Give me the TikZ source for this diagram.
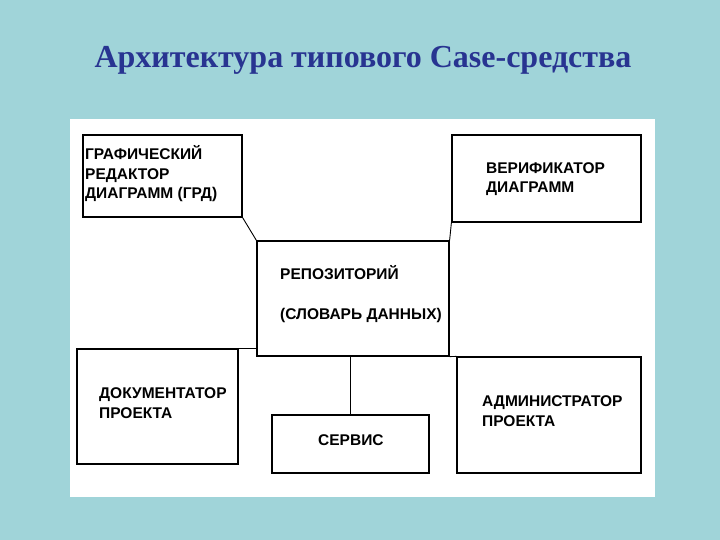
\documentclass[tikz,border=0pt]{standalone}
\usepackage{fontspec}
\setmainfont{Liberation Serif}
\newfontfamily\boxfont{Liberation Sans}
\definecolor{slidebg}{RGB}{160,212,217}
\definecolor{titleblue}{RGB}{40,52,145}
\usetikzlibrary{positioning,calc}

\begin{document}
\begin{tikzpicture}[x=1pt, y=-1pt,
  box/.style={rectangle, draw=black, line width=1.2pt, fill=white,
              inner sep=0pt},
  lbl/.style={font=\boxfont\bfseries\fontsize{15.5}{19.5}\selectfont,
              align=left, anchor=base west, inner sep=0pt},
  conn/.style={draw=black, line width=0.9pt}
]
% Background and panel
\fill[slidebg] (0,0) rectangle (720,540);
\useasboundingbox (0,0) rectangle (720,540);
\fill[white] (70,119) rectangle (655,497);

% Title
\node[font=\bfseries\fontsize{32}{36}\selectfont, text=titleblue] (title)
  at (363,60) {Архитектура типового Case-средства};

% Boxes
\node[box, minimum width=159, minimum height=82] (grd) at (162.5,176) {};
\node[box, minimum width=189, minimum height=87] (ver) at (546.5,178.5) {};
\node[box, minimum width=192, minimum height=115] (rep) at (353,298.5) {};
\node[box, minimum width=161, minimum height=115] (doc) at (157.5,406.5) {};
\node[box, minimum width=157, minimum height=58] (srv) at (350.5,444) {};
\node[box, minimum width=184, minimum height=116] (adm) at (549,415) {};

% Labels (base = last line)
\node[lbl] (grdtxt) at (85,199) {ГРАФИЧЕСКИЙ\\РЕДАКТОР\\ДИАГРАММ (ГРД)};
\node[lbl] (vertxt) at (486,193) {ВЕРИФИКАТОР\\ДИАГРАММ};
\node[lbl] (reptxt) at (280,279) {РЕПОЗИТОРИЙ};
\node[lbl] (dictxt) at (280,319) {(СЛОВАРЬ ДАННЫХ)};
\node[lbl] (doctxt) at (99,418) {ДОКУМЕНТАТОР\\ПРОЕКТА};
\node[lbl] (srvtxt) at (318,445) {СЕРВИС};
\node[lbl] (admtxt) at (482,426) {АДМИНИСТРАТОР\\ПРОЕКТА};

% Connectors
\draw[conn] (grd.south east) -- (rep.north west);
\draw[conn] (ver.south west) -- (rep.north east);
\draw[conn] (doc.north east) -- (doc.north east -| rep.west);
\draw[conn] (srv.north) -- (srv.north |- rep.south);
\draw[conn] (rep.south east) -- (adm.north west);
\end{tikzpicture}
\end{document}
